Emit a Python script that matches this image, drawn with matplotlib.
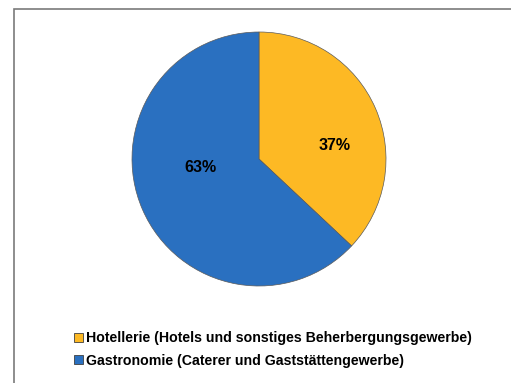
import matplotlib
matplotlib.use("Agg")
import matplotlib.pyplot as plt
from matplotlib.lines import Line2D

# Share of businesses by segment
categories = ["Hotellerie (Hotels und sonstiges Beherbergungsgewerbe)",
              "Gastronomie (Caterer und Gaststättengewerbe)"]
shares = [37, 63]
colors = ["#FDB924", "#2A70C0"]

W, H = 511, 383
fig = plt.figure(figsize=(W / 100, H / 100), dpi=100)
fig.patch.set_facecolor("white")
plt.rcParams["font.family"] = ["Liberation Sans", "DejaVu Sans"]

ax = fig.add_axes([0, 0, 1, 1])

cx, cy, r = 259, H - 159, 127
wedges, _, autotexts = ax.pie(
    shares, colors=colors, startangle=90, counterclock=False,
    center=(cx, cy), radius=r, autopct="%1.0f%%",
    wedgeprops=dict(edgecolor="#5a5a5a", linewidth=0.5),
    textprops=dict(fontsize=11.5, fontweight="bold", color="black"),
    frame=True)
ax.set_xlim(0, W)
ax.set_ylim(0, H)
ax.set_aspect("equal")
ax.axis("off")

# label positions inside the slices
autotexts[0].set_position((335, H - 146))
autotexts[1].set_position((200, H - 168))
for t in autotexts:
    t.set_ha("center")
    t.set_va("center")

# frame lines on the left and top
ax.add_line(Line2D([14, 14, W], [0, H - 9, H - 9], color="#7a7a7a",
                   linewidth=1.2, solid_capstyle="butt", solid_joinstyle="miter"))

leg = ax.legend(wedges, categories, loc="upper left",
                bbox_to_anchor=(74 / W, 1 - 331 / H),
                frameon=False,
                prop=dict(weight="bold", size=10.2),
                handlelength=0.6, handleheight=0.6, handletextpad=0.25,
                labelspacing=0.6, borderpad=0, borderaxespad=0)
for h in leg.legend_handles:
    h.set_edgecolor("#404040")
    h.set_linewidth(0.6)

fig.savefig("out.png", dpi=100)
